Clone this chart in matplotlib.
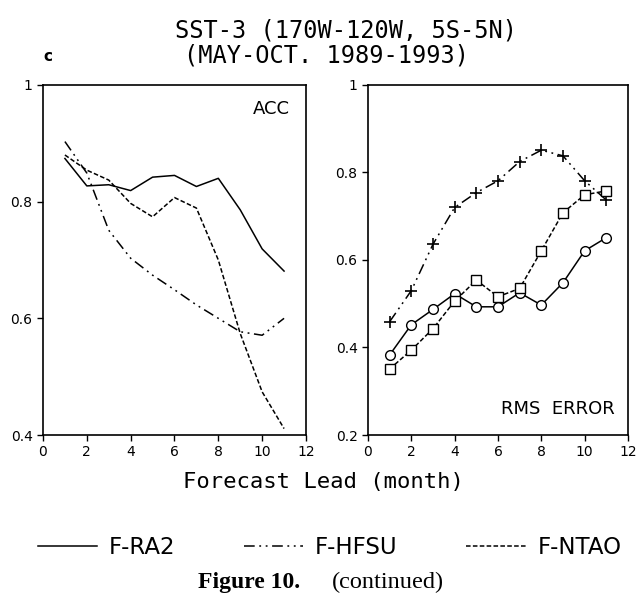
import numpy as np
import matplotlib.pyplot as plt

lead = np.arange(1, 12)

# ACC (left panel)
acc_ra2 = [0.874, 0.827, 0.829, 0.819, 0.842, 0.845, 0.826, 0.840, 0.786, 0.719, 0.681]
acc_hfsu = [0.903, 0.849, 0.751, 0.703, 0.674, 0.649, 0.623, 0.600, 0.577, 0.571, 0.600]
acc_ntao = [0.880, 0.854, 0.837, 0.797, 0.774, 0.807, 0.789, 0.700, 0.574, 0.474, 0.411]

# RMS error (right panel)
rms_ra2 = [0.383, 0.452, 0.487, 0.523, 0.493, 0.493, 0.525, 0.497, 0.548, 0.621, 0.651]
rms_hfsu = [0.459, 0.530, 0.636, 0.720, 0.754, 0.781, 0.825, 0.851, 0.838, 0.781, 0.737]
rms_ntao = [0.351, 0.394, 0.443, 0.506, 0.554, 0.516, 0.535, 0.621, 0.708, 0.749, 0.758]

names = ['F-RA2', 'F-HFSU', 'F-NTAO']

ls_solid = '-'
ls_dashdot = (0, (7, 3, 1.2, 3, 1.2, 3))
ls_dash = (0, (3, 1.5))

fig = plt.figure(figsize=(6.36, 6.04), dpi=100)

ax1 = fig.add_axes([0.0676, 0.2798, 0.4135, 0.5795])
ax2 = fig.add_axes([0.5786, 0.2798, 0.4088, 0.5795])

ax1.plot(lead, acc_ra2, color='k', lw=1.1, linestyle=ls_solid)
ax1.plot(lead, acc_hfsu, color='k', lw=1.1, linestyle=ls_dashdot)
ax1.plot(lead, acc_ntao, color='k', lw=1.1, linestyle=ls_dash)
ax1.set_ylim(0.4, 1)
ax1.set_yticks([0.4, 0.6, 0.8, 1])
ax1.set_yticklabels(['0.4', '0.6', '0.8', '1'])
ax1.text(0.94, 0.93, 'ACC', transform=ax1.transAxes, ha='right', va='center', fontsize=13)

ax2.plot(lead, rms_ra2, color='k', lw=1.1, linestyle=ls_solid,
         marker='o', ms=7, mfc='white', mec='k', mew=1.0)
ax2.plot(lead, rms_hfsu, color='k', lw=1.1, linestyle=ls_dashdot,
         marker='+', ms=9, mec='k', mew=1.2)
ax2.plot(lead, rms_ntao, color='k', lw=1.1, linestyle=ls_dash,
         marker='s', ms=7, mfc='white', mec='k', mew=1.0)
ax2.set_ylim(0.2, 1)
ax2.set_yticks([0.2, 0.4, 0.6, 0.8, 1])
ax2.set_yticklabels(['0.2', '0.4', '0.6', '0.8', '1'])
ax2.text(0.95, 0.075, 'RMS  ERROR', transform=ax2.transAxes, ha='right', va='center', fontsize=13)

for ax in (ax1, ax2):
    ax.set_xlim(0, 12)
    ax.set_xticks(range(0, 13, 2))
    ax.tick_params(direction='out', length=4, width=1, labelsize=10)
    for s in ax.spines.values():
        s.set_linewidth(1.2)

fig.text(0.544, 0.949, 'SST-3 (170W-120W, 5S-5N)', ha='center', va='center',
         fontsize=17, family='DejaVu Sans Mono')
fig.text(0.514, 0.908, '(MAY-OCT. 1989-1993)', ha='center', va='center',
         fontsize=17, family='DejaVu Sans Mono')
fig.text(0.075, 0.907, 'c', ha='center', va='center', fontsize=11, fontweight='bold')

fig.text(0.509, 0.202, 'Forecast Lead (month)', ha='center', va='center',
         fontsize=16, family='DejaVu Sans Mono')

# legend under the panels
handles = [plt.Line2D([], [], color='k', lw=1.1, linestyle=s) for s in (ls_solid, ls_dashdot, ls_dash)]
fig.legend(handles, names, loc='center', bbox_to_anchor=(0.518, 0.093), ncol=3, frameon=False,
           fontsize=16.5, handlelength=2.6, handletextpad=0.5, columnspacing=3.0)

fig.text(0.311, 0.036, 'Figure 10.', ha='left', va='center', fontsize=17,
         family='Liberation Serif', fontweight='bold')
fig.text(0.522, 0.036, '(continued)', ha='left', va='center', fontsize=17.5,
         family='Liberation Serif')

fig.savefig('out.png', dpi=100)
